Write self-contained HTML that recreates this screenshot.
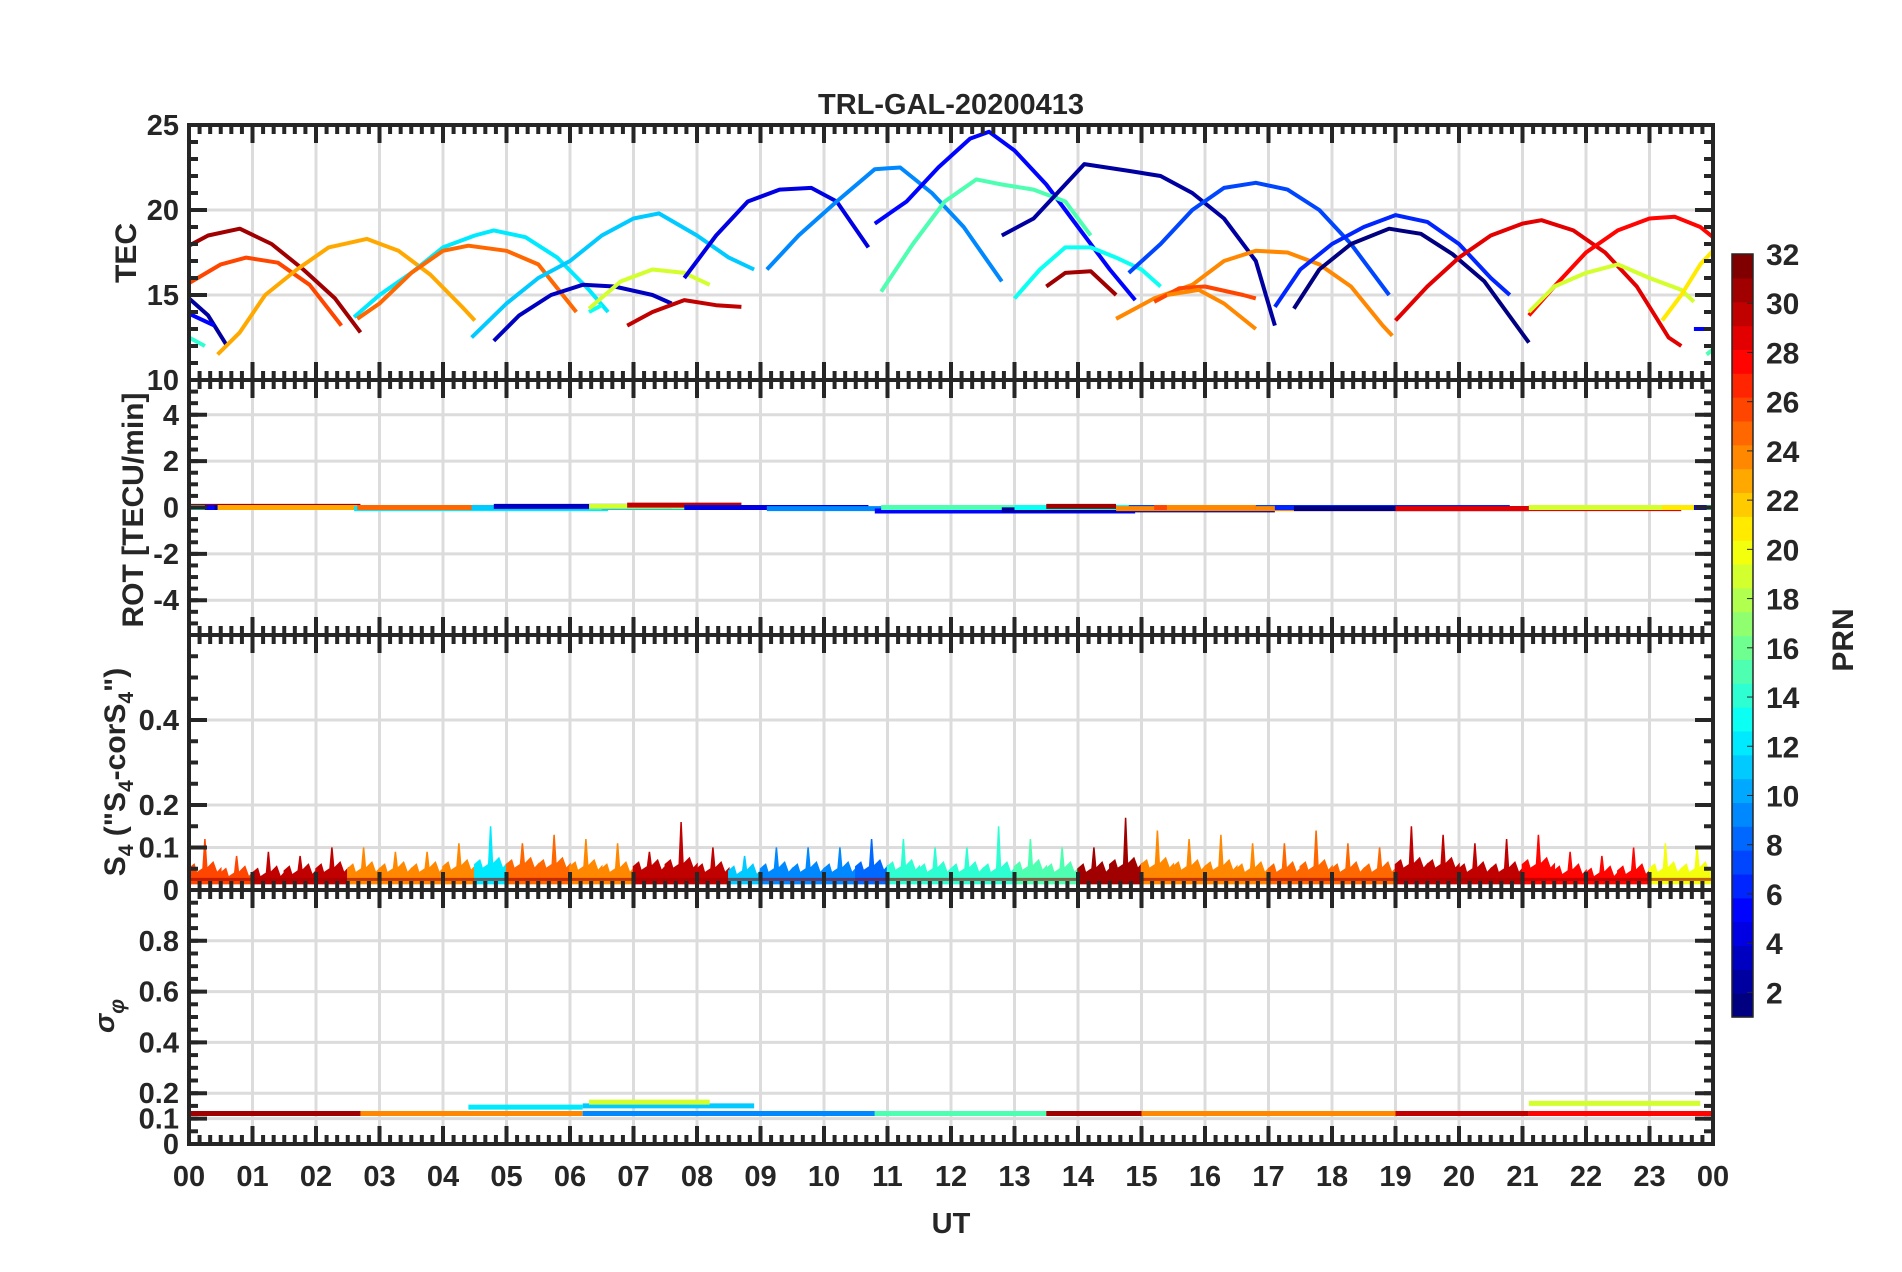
<!DOCTYPE html>
<html><head><meta charset="utf-8"><style>
html,body{margin:0;padding:0;background:#fff}
svg{display:block}
text{font-family:"Liberation Sans",Arial,sans-serif;font-weight:bold;fill:#262626}
</style></head><body>
<svg id="chart" width="1902" height="1272" viewBox="0 0 1902 1272" xmlns="http://www.w3.org/2000/svg">
<text x="951" y="114" font-size="29" text-anchor="middle">TRL-GAL-20200413</text>
<g id="grid"></g><g id="marks"></g><g id="axes"></g>
<text x="951" y="1233" font-size="29" text-anchor="middle">UT</text>
<text transform="translate(136,253) rotate(-90)" font-size="30" text-anchor="middle">TEC</text>
<text transform="translate(143,510) rotate(-90)" font-size="30" text-anchor="middle">ROT [TECU/min]</text>
<text transform="translate(125,772) rotate(-90)" font-size="30" text-anchor="middle">S<tspan font-size="21" dy="8">4</tspan><tspan dy="-8"> ("S</tspan><tspan font-size="21" dy="8">4</tspan><tspan dy="-8">-corS</tspan><tspan font-size="21" dy="8">4</tspan><tspan dy="-8">")</tspan></text>
<text transform="translate(114,1016) rotate(-90)" font-size="29" text-anchor="middle" font-style="italic" font-weight="normal" font-family="Liberation Serif, serif">σ<tspan font-size="21" dy="10">φ</tspan></text>
<g id="cbar"></g>
<text transform="translate(1853,640) rotate(-90)" font-size="30" text-anchor="middle">PRN</text>
</svg>
<script>
// ---- data ----
const tecPrn = [31,26,2,5,14,23,12,25,11,13,3,19,30,4,9,5,15,2,13,31,7,24,26,24,6,1,29,28,19,21,5,15];
const tecArcs = [
 [[0,17.9],[0.3,18.5],[0.8,18.9],[1.3,18.0],[1.8,16.5],[2.3,14.8],[2.7,12.8]],
 [[0,15.7],[0.5,16.8],[0.9,17.2],[1.4,16.9],[1.9,15.6],[2.4,13.2]],
 [[0,14.8],[0.3,13.8],[0.6,12.0]],
 [[0,13.9],[0.4,13.2]],
 [[0,12.5],[0.25,12.0]],
 [[0.45,11.5],[0.8,12.8],[1.2,15.0],[1.7,16.5],[2.2,17.8],[2.8,18.3],[3.3,17.6],[3.8,16.2],[4.3,14.3],[4.5,13.5]],
 [[2.6,13.7],[3.0,15.0],[3.5,16.3],[4.0,17.8],[4.5,18.5],[4.8,18.8],[5.3,18.4],[5.8,17.2],[6.3,15.3],[6.6,14.0]],
 [[2.65,13.6],[3.0,14.5],[3.5,16.3],[4.0,17.6],[4.4,17.9],[5.0,17.6],[5.5,16.8],[6.1,14.0]],
 [[4.45,12.5],[5.0,14.5],[5.5,16.0],[6.0,17.0],[6.5,18.5],[7.0,19.5],[7.4,19.8],[8.0,18.5],[8.5,17.2],[8.9,16.5]],
 [[6.3,14.0],[6.5,14.4]],
 [[4.8,12.3],[5.2,13.8],[5.7,15.0],[6.2,15.6],[6.7,15.5],[7.3,15.0],[7.6,14.5]],
 [[6.3,14.2],[6.8,15.8],[7.3,16.5],[7.8,16.3],[8.2,15.6]],
 [[6.9,13.2],[7.3,14.0],[7.8,14.7],[8.3,14.4],[8.7,14.3]],
 [[7.8,16.0],[8.3,18.5],[8.8,20.5],[9.3,21.2],[9.8,21.3],[10.2,20.5],[10.7,17.8]],
 [[9.1,16.5],[9.6,18.5],[10.2,20.5],[10.8,22.4],[11.2,22.5],[11.7,21.0],[12.2,19.0],[12.8,15.8]],
 [[10.8,19.2],[11.3,20.5],[11.8,22.5],[12.3,24.2],[12.6,24.6],[13.0,23.5],[13.5,21.5],[14.0,19.0],[14.5,16.5],[14.9,14.7]],
 [[10.9,15.2],[11.4,18.0],[11.9,20.5],[12.4,21.8],[12.8,21.5],[13.3,21.2],[13.8,20.5],[14.2,18.5]],
 [[12.8,18.5],[13.3,19.5],[13.8,21.5],[14.1,22.7],[14.8,22.3],[15.3,22.0],[15.8,21.0],[16.3,19.5],[16.8,17.0],[17.1,13.2]],
 [[13.0,14.8],[13.4,16.5],[13.8,17.8],[14.2,17.8],[14.6,17.2],[15.0,16.5],[15.3,15.5]],
 [[13.5,15.5],[13.8,16.3],[14.2,16.4],[14.6,15.0]],
 [[14.8,16.3],[15.3,18.0],[15.8,20.0],[16.3,21.3],[16.8,21.6],[17.3,21.2],[17.8,20.0],[18.3,18.0],[18.9,15.0]],
 [[14.6,13.6],[15.2,14.8],[15.8,15.6],[16.3,17.0],[16.8,17.6],[17.3,17.5],[17.8,16.8],[18.3,15.5],[18.8,13.2],[18.95,12.6]],
 [[15.2,14.6],[15.6,15.4],[16.0,15.5],[16.6,15.0],[16.8,14.8]],
 [[15.4,15.0],[15.9,15.3],[16.3,14.5],[16.8,13.0]],
 [[17.1,14.3],[17.5,16.5],[18.0,18.0],[18.5,19.0],[19.0,19.7],[19.5,19.3],[20.0,18.0],[20.5,16.0],[20.8,15.0]],
 [[17.4,14.2],[17.8,16.5],[18.3,18.0],[18.9,18.9],[19.4,18.6],[19.9,17.4],[20.4,15.8],[21.1,12.2]],
 [[19.0,13.5],[19.5,15.5],[20.0,17.2],[20.5,18.5],[21.0,19.2],[21.3,19.4],[21.8,18.8],[22.3,17.5],[22.8,15.5],[23.3,12.5],[23.5,12.0]],
 [[21.1,13.8],[21.5,15.5],[22.0,17.5],[22.5,18.8],[23.0,19.5],[23.4,19.6],[23.8,19.0],[24.0,18.4]],
 [[21.1,14.0],[21.5,15.5],[22.0,16.3],[22.5,16.8],[23.0,16.0],[23.5,15.3],[23.7,14.6]],
 [[23.2,13.5],[23.5,15.0],[23.8,16.8],[24.0,17.6]],
 [[23.7,13.0],[24.0,13.0]],
 [[23.9,11.5],[24.0,11.8]]
];
const rotOffset = [0.05,0,0,0,0,0,-0.05,0,0,0,0.05,0.05,0.1,0,-0.05,-0.15,0,-0.1,0,0.05,0,-0.05,0,0,0,-0.05,-0.05,0,0,0,0,0];
const s4Peak = [0.12,0.08,0.09,0.08,0.10,0.10,0.09,0.09,0.11,0.15,0.11,0.13,0.12,0.11,0.09,0.16,0.10,0.08,0.10,0.10,0.10,0.12,0.12,0.10,0.10,0.15,0.12,0.10,0.10,0.17,0.14,0.12,0.13,0.11,0.11,0.14,0.11,0.10,0.15,0.13,0.11,0.12,0.13,0.09,0.08,0.10,0.11,0.10];
const s4Mean = [0.05,0.04,0.04,0.045,0.05,0.05,0.05,0.05,0.055,0.06,0.06,0.06,0.055,0.05,0.055,0.06,0.05,0.045,0.05,0.05,0.05,0.055,0.055,0.05,0.05,0.05,0.055,0.05,0.05,0.06,0.06,0.055,0.055,0.05,0.05,0.055,0.05,0.05,0.06,0.06,0.05,0.05,0.06,0.045,0.04,0.045,0.05,0.05];
const s4Prn = [26,26,30,30,30,24,24,24,24,12,25,25,24,24,30,30,30,11,9,9,9,8,14,14,14,14,15,15,31,31,24,24,24,24,25,25,25,25,30,30,30,30,28,28,28,28,20,20];
const sigSegs = [[0,2.7,0.12,31],[2.7,6.2,0.12,24],[4.4,6.2,0.145,12],[6.2,8.9,0.15,11],[6.3,8.2,0.165,19],[6.2,10.8,0.12,9],[10.8,13.5,0.12,15],[13.5,15,0.12,31],[15,19,0.12,24],[19,21.1,0.12,30],[21.1,24,0.12,28],[21.1,23.8,0.16,19]];
const xTicks = ["00","01","02","03","04","05","06","07","08","09","10","11","12","13","14","15","16","17","18","19","20","21","22","23","00"];
const panels = [
 {name:"tec",y0:125,y1:380,min:10,max:25,ticks:[10,15,20,25],labels:["10","15","20","25"],minor:1},
 {name:"rot",y0:380,y1:635,min:-5.5,max:5.5,ticks:[-4,-2,0,2,4],labels:["-4","-2","0","2","4"],minor:0.5},
 {name:"s4",y0:635,y1:890,min:0,max:0.6,ticks:[0,0.1,0.2,0.4],labels:["0","0.1","0.2","0.4"],minor:0.05},
 {name:"sigma",y0:890,y1:1144,min:0,max:1,ticks:[0,0.1,0.2,0.4,0.6,0.8],labels:["0","0.1","0.2","0.4","0.6","0.8"],minor:0.05}
];
// ---- helpers ----
const NS="http://www.w3.org/2000/svg";
const X0=189,X1=1713;
const xs=t=>X0+(X1-X0)*t/24;
const ys=(p,v)=>p.y1-(p.y1-p.y0)*(v-p.min)/(p.max-p.min);
function jet(prn){const x=(prn-1)/31;const c=v=>Math.round(255*Math.max(0,Math.min(1,v)));
 return `rgb(${c(1.5-Math.abs(4*x-3))},${c(1.5-Math.abs(4*x-2))},${c(1.5-Math.abs(4*x-1))})`;}
function mk(tag,attrs,parent){const e=document.createElementNS(NS,tag);for(const k in attrs)e.setAttribute(k,attrs[k]);parent.appendChild(e);return e;}
const grid=document.getElementById('grid'),marks=document.getElementById('marks'),axes=document.getElementById('axes'),cbar=document.getElementById('cbar');
panels.forEach(p=>{
 for(let h=1;h<24;h++){const g=mk('line',{x1:xs(h),x2:xs(h),y1:p.y0,y2:p.y1,stroke:'#dcdcdc','stroke-width':3},grid);
  
  }
 p.ticks.forEach((v,i)=>{
  if(v>p.min&&v<p.max){const g=mk('line',{x1:X0,x2:X1,y1:ys(p,v),y2:ys(p,v),stroke:'#dcdcdc','stroke-width':3},grid);
   
   }
  const t=mk('text',{x:179,y:ys(p,v)+10,'font-size':29,'text-anchor':'end'},axes);t.textContent=p.labels[i];
  
  
  [[X0,X0+18],[X1,X1-18]].forEach(a=>mk('line',{x1:a[0],x2:a[1],y1:ys(p,v),y2:ys(p,v),stroke:'#262626','stroke-width':4},axes));
 });
 const n=Math.round((p.max-p.min)/p.minor);
 for(let k=0;k<=n;k++){const v=p.min+k*p.minor;const y=ys(p,v);
  mk('line',{x1:X0,x2:X0+9,y1:y,y2:y,stroke:'#262626','stroke-width':4},axes);
  mk('line',{x1:X1,x2:X1-9,y1:y,y2:y,stroke:'#262626','stroke-width':4},axes);}
 for(let k=0;k<=144;k++){const x=xs(k/6);const L=(k%6==0)?18:9;
  mk('line',{x1:x,x2:x,y1:p.y0,y2:p.y0+L,stroke:'#262626','stroke-width':4},axes);
  mk('line',{x1:x,x2:x,y1:p.y1,y2:p.y1-L,stroke:'#262626','stroke-width':4},axes);}
 const b=mk('rect',{x:X0,y:p.y0,width:X1-X0,height:p.y1-p.y0,fill:'none',stroke:'#262626','stroke-width':4},axes);
 
 
});
xTicks.forEach((l,h)=>{const t=mk('text',{x:xs(h),y:1186,'font-size':29,'text-anchor':'middle'},axes);t.textContent=l;
 
 });
const P=panels;
tecArcs.forEach((arc,i)=>{
 const pts=arc.map(d=>xs(d[0]).toFixed(1)+','+ys(P[0],d[1]).toFixed(1)).join(' ');
 const l=mk('polyline',{points:pts,fill:'none',stroke:jet(tecPrn[i]),'stroke-width':4,'stroke-linejoin':'round'},marks);
 
 
 const t0=arc[0][0],t1=arc[arc.length-1][0];
 const r=mk('line',{x1:xs(t0),x2:xs(t1),y1:ys(P[1],rotOffset[i]),y2:ys(P[1],rotOffset[i]),stroke:jet(tecPrn[i]),'stroke-width':5},marks);
 
 
});
s4Peak.forEach((pk,i)=>{
 const t0=i*0.5,tm=t0+0.25,t1=t0+0.5,p=P[2],m=s4Mean[i];
 const pts=[[t0,0.015],[t0,m],[t0+0.08,m+0.01],[t0+0.12,m-0.01],[tm-0.03,m],[tm,pk],[tm+0.03,m],[t1-0.12,m+0.015],[t1-0.06,m-0.01],[t1,m],[t1,0.015]]
  .map(d=>xs(d[0]).toFixed(1)+','+ys(p,d[1]).toFixed(1)).join(' ');
 const g=mk('polygon',{points:pts,fill:jet(s4Prn[i]),stroke:jet(s4Prn[i]),'stroke-width':1.5},marks);
 
 
});
const s4base=mk('line',{x1:X0,x2:X1,y1:ys(P[2],0.025),y2:ys(P[2],0.025),stroke:'#a00000','stroke-width':3,opacity:0.6},marks);


sigSegs.forEach(s=>{
 const l=mk('line',{x1:xs(s[0]),x2:xs(s[1]),y1:ys(P[3],s[2]),y2:ys(P[3],s[2]),stroke:jet(s[3]),'stroke-width':5},marks);
 
 
});
const CB0=254,CB1=1017,CX=1732,CW=21;
const cy=v=>CB0+(CB1-CB0)*(32-v)/31;
for(let k=1;k<=32;k++){
 const y0=CB0+(CB1-CB0)*(32-k)/32,y1=CB0+(CB1-CB0)*(33-k)/32;
 const r=mk('rect',{x:CX,y:y0,width:CW,height:y1-y0+0.6,fill:jet(k)},cbar);
 
 
}
mk('rect',{x:CX,y:CB0,width:CW,height:CB1-CB0,fill:'none',stroke:'#262626','stroke-width':1.5},cbar);
for(let v=2;v<=32;v+=2){
 mk('line',{x1:CX+CW-6,x2:CX+CW,y1:cy(v),y2:cy(v),stroke:'#262626','stroke-width':1},cbar);
 const t=mk('text',{x:1766,y:cy(v)+11,'font-size':30},cbar);t.textContent=v;
 
 
}
</script>
</body></html>
